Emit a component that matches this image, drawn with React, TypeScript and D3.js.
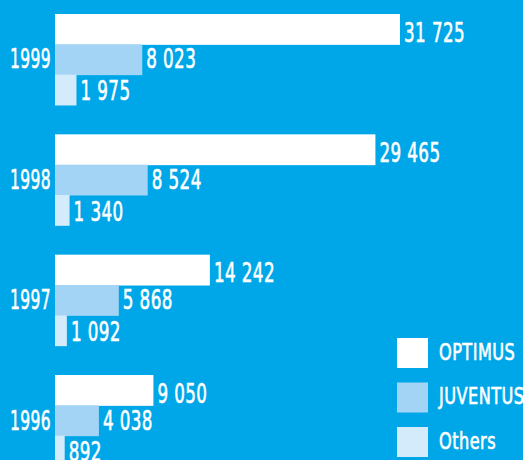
import React from "react";
import * as d3 from "d3";

const years = ["1999", "1998", "1997", "1996"];
const series = ["OPTIMUS", "JUVENTUS", "Others"];
const optimus = [31725, 29465, 14242, 9050];
const juventus = [8023, 8524, 5868, 4038];
const others = [1975, 1340, 1092, 892];
const valueLists = [optimus, juventus, others];

const colors = ["#ffffff", "#a3d4f5", "#d3ebfa"];
const BG = "#00a7e8";
const FONT = "'DejaVu Sans Condensed', 'Liberation Sans Narrow', sans-serif";

const fmt = (v: number) => d3.format(",")(v).replace(/,/g, " ");

export default function App() {
  const W = 523, H = 460;
  const x0 = 55;
  const x = d3.scaleLinear().domain([0, 31725]).range([0, 345]);
  const y = d3.scaleBand().domain(years).range([14, 466]).paddingInner(0.244).paddingOuter(0);
  const inner = d3.scaleBand().domain(series).range([0, y.bandwidth()]).padding(0);
  const bh = inner.bandwidth();
  const dys = [12.5, 9, 10.5];

  const label = (tx: number, ty: number, s: string, size: number, sx: number, anchor: "start" | "end" = "start") => (
    <text
      transform={`translate(${tx},${ty}) scale(${sx},1)`}
      fontFamily={FONT}
      fontSize={size}
      fill="#ffffff"
      stroke="#ffffff"
      strokeWidth={0.6}
      letterSpacing={0.6}
      textAnchor={anchor}
    >
      {s}
    </text>
  );

  return (
    <svg width={W} height={H} style={{ position: "absolute", left: 0, top: 0, display: "block" }}>
      <rect x={0} y={0} width={W} height={H} fill={BG} />
      {years.map((yr, i) => {
        const gy = y(yr)!;
        return (
          <g key={yr}>
            {series.map((s, j) => {
              const v = valueLists[j][i];
              const by = gy + inner(s)!;
              const w = x(v);
              return (
                <g key={s}>
                  <rect x={x0} y={by} width={w} height={bh + 0.5} fill={colors[j]} />
                  {label(x0 + w + 4, by + bh / 2 + dys[j], fmt(v), 27, 0.69)}
                </g>
              );
            })}
            {label(51, gy + inner("JUVENTUS")! + bh / 2 + 9, yr, 27, 0.64, "end")}
          </g>
        );
      })}
      {series.map((s, j) => {
        const ly = 338 + j * 44.5;
        return (
          <g key={s}>
            <rect x={397} y={ly} width={31} height={30} fill={colors[j]} />
            {label(439, ly + 21.5, s, 23, 0.78)}
          </g>
        );
      })}
    </svg>
  );
}
